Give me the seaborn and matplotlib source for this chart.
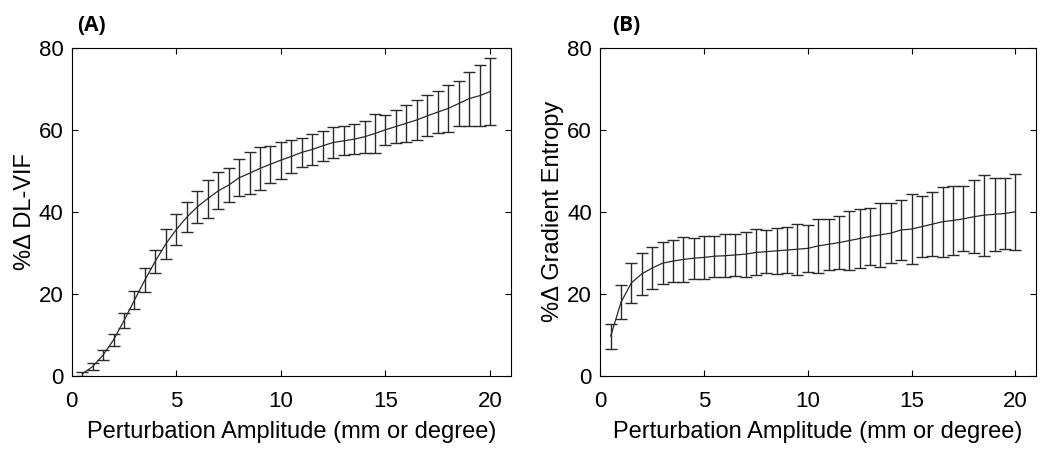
import numpy as np
import pandas as pd
import matplotlib
matplotlib.use("Agg")
import matplotlib.pyplot as plt
import seaborn as sns

# perturbation amplitudes (mm or degree)
amplitude = [0.5, 1.0, 1.5, 2.0, 2.5, 3.0, 3.5, 4.0, 4.5, 5.0,
             5.5, 6.0, 6.5, 7.0, 7.5, 8.0, 8.5, 9.0, 9.5, 10.0,
             10.5, 11.0, 11.5, 12.0, 12.5, 13.0, 13.5, 14.0, 14.5, 15.0,
             15.5, 16.0, 16.5, 17.0, 17.5, 18.0, 18.5, 19.0, 19.5, 20.0]

# (A) %change DL-VIF, mean and std
dlvif_mean = [0.5, 2.3, 5.1, 8.8, 13.5, 18.5, 23.4, 28.0, 32.2, 35.7,
              38.7, 41.2, 43.2, 45.1, 46.5, 48.3, 49.4, 50.6, 51.6, 52.6,
              53.5, 54.5, 55.2, 56.1, 56.9, 57.3, 57.7, 58.3, 59.1, 60.0,
              60.8, 61.6, 62.4, 63.4, 64.3, 65.2, 66.4, 67.6, 68.3, 69.3]
dlvif_std = [0.5, 0.8, 1.2, 1.4, 1.8, 2.2, 2.9, 2.8, 3.7, 3.7,
             3.7, 3.9, 4.6, 4.5, 4.2, 4.5, 5.1, 5.3, 4.5, 4.5,
             4.1, 3.6, 3.8, 3.7, 3.8, 3.5, 3.7, 3.9, 4.8, 3.7,
             4.0, 4.5, 4.8, 5.0, 5.2, 5.7, 5.6, 6.6, 7.4, 8.2]

# (B) %change gradient entropy, mean and std
entropy_mean = [9.7, 18.0, 22.7, 24.9, 26.3, 27.5, 28.0, 28.4, 28.7, 28.9,
                29.2, 29.3, 29.5, 29.7, 30.1, 30.3, 30.5, 30.7, 30.9, 31.1,
                31.7, 32.1, 32.5, 33.0, 33.5, 34.0, 34.4, 34.8, 35.6, 35.8,
                36.4, 37.0, 37.6, 37.9, 38.3, 38.8, 39.2, 39.4, 39.6, 40.0]
entropy_std = [3.0, 4.2, 4.8, 5.1, 5.2, 5.2, 5.2, 5.4, 5.0, 5.3,
               5.0, 5.2, 5.2, 5.5, 5.6, 5.2, 5.6, 5.7, 6.2, 5.8,
               6.5, 6.2, 6.5, 7.2, 7.3, 7.0, 7.8, 7.3, 7.4, 8.5,
               7.4, 7.8, 8.5, 8.5, 7.9, 8.9, 9.9, 8.9, 8.6, 9.2]

panels = [
    ("(A)", "%\u0394 DL-VIF", dlvif_mean, dlvif_std, 77),
    ("(B)", "%\u0394 Gradient Entropy", entropy_mean, entropy_std, 612),
]

sns.set_style("ticks")
plt.rcParams['font.family'] = ['Liberation Sans', 'DejaVu Sans']
plt.rcParams['text.color'] = 'black'
plt.rcParams['axes.labelcolor'] = 'black'

W, H = 1050, 453
fig = plt.figure(figsize=(10.5, 4.53), dpi=100)
axes = [fig.add_axes([71.7 / W, 1 - 376 / H, (511 - 71.7) / W, (376 - 47.7) / H]),
        fig.add_axes([600.3 / W, 1 - 376 / H, (1036 - 600.3) / W, (376 - 47.7) / H])]

line_col = "#2a2a2a"
for ax, (tag, ylabel, mean, std, tag_x) in zip(axes, panels):
    df = pd.DataFrame({"amp": amplitude, "mean": mean, "std": std})
    sns.lineplot(data=df, x="amp", y="mean", ax=ax, color=line_col, linewidth=0.9)
    ax.errorbar(df["amp"], df["mean"], yerr=df["std"], fmt="none",
                ecolor=line_col, elinewidth=1.0, capsize=4.5, capthick=1.0)
    ax.set_xlim(0, 21)
    ax.set_ylim(0, 80)
    ax.set_xticks([0, 5, 10, 15, 20])
    ax.set_yticks([0, 20, 40, 60, 80])
    ax.tick_params(direction="in", top=True, right=True, labelsize=16,
                   length=4, width=0.8, colors="black")
    ax.tick_params(axis="y", pad=6)
    ax.tick_params(axis="x", pad=11)
    for s in ax.spines.values():
        s.set_linewidth(0.8)
        s.set_color("black")
    ax.set_xlabel("Perturbation Amplitude (mm or degree)", fontsize=17, labelpad=6)
    ax.set_ylabel(ylabel, fontsize=17, labelpad=2)
    fig.text(tag_x / W, 1 - 31 / H, tag, fontsize=15, fontweight="bold",
             family=["Open Sans", "DejaVu Sans"], va="baseline")

fig.savefig("out.png", dpi=100)
